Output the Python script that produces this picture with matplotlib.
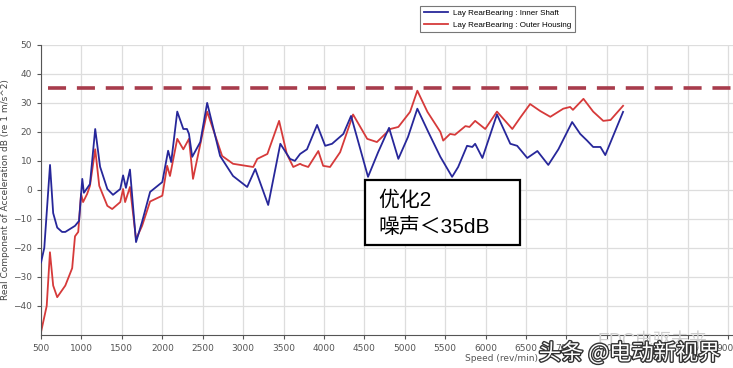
import matplotlib.pyplot as plt
import matplotlib.patheffects as pe
from matplotlib.patches import Rectangle

# Lay RearBearing : Inner Shaft
inner_rpm = [500, 540, 611, 650, 700, 760, 800, 920, 970, 1010, 1030, 1105, 1170, 1230,
             1320, 1390, 1480, 1515, 1550, 1600, 1675, 1750, 1849, 2000, 2072, 2110,
             2185, 2260, 2305, 2330, 2370, 2470, 2555, 2715, 2875, 3050, 3150, 3310,
             3460, 3580, 3640, 3705, 3790, 3915, 4015, 4100, 4240, 4335, 4425, 4545,
             4670, 4805, 4920, 5040, 5155, 5290, 5440, 5585, 5660, 5770, 5835, 5870,
             5960, 6140, 6305, 6390, 6515, 6640, 6775, 6900, 7070, 7170, 7255, 7330,
             7420, 7480, 7700]
inner_db = [-25, -20, 8.6, -8, -13, -14.5, -14.5, -12.4, -10.7, 3.8, -1, 2, 21, 8,
            0.3, -1.7, 0.3, 5, 0.7, 7, -18, -11, -0.7, 2.7, 13.5, 9.6,
            27, 21, 21, 19.3, 11.4, 16.5, 30, 11.7, 4.8, 1, 7.2, -5.2,
            15.9, 10.7, 10, 12.4, 14, 22.4, 15.2, 15.9, 19.3, 25.5, 16.5, 4.5,
            13, 21.4, 10.7, 18.3, 28, 20, 11.4, 4.5, 7.9, 15.2, 14.8, 15.9,
            11, 26, 15.9, 15.2, 11, 13.4, 8.6, 14, 23.4, 19.3, 17, 14.8,
            14.8, 12, 26.9]

# Lay RearBearing : Outer Housing
outer_rpm = [500, 570, 610, 650, 700, 800, 885, 920, 960, 995, 1020, 1070, 1105, 1170,
             1220, 1320, 1380, 1480, 1515, 1540, 1600, 1675, 1750, 1849, 2000, 2060,
             2095, 2185, 2260, 2330, 2380, 2555, 2740, 2875, 3125, 3175, 3300, 3445,
             3540, 3620, 3705, 3730, 3805, 3930, 3990, 4075, 4200, 4360, 4535, 4655,
             4820, 4920, 5065, 5155, 5280, 5440, 5475, 5560, 5620, 5750, 5800, 5870,
             5995, 6140, 6330, 6430, 6550, 6675, 6800, 6960, 7045, 7080, 7210, 7330,
             7455, 7545, 7700]
outer_db = [-49, -40, -21.5, -33, -37, -33, -27, -16, -14.5, -1.4, -4.2, -1.4, 1.4, 14,
            1.4, -5.5, -6.6, -4.2, 0.3, -4.2, 1, -17, -12.4, -4, -2, 8.3,
            4.8, 17.6, 14, 17.6, 3.8, 27, 11.7, 9, 7.9, 10.7, 12.4, 23.8,
            12.4, 7.9, 9, 8.6, 7.9, 13.4, 8.3, 7.9, 13, 26, 17.6, 16.5,
            21, 21.7, 26.9, 34.2, 26.9, 20, 17, 19.3, 19, 22, 21.7, 23.8,
            21, 27, 21, 25, 29.6, 27.2, 25.2, 28, 28.6, 27.6, 31.4, 27,
            23.8, 24.1, 29]

limit_db = 35
x_ticks = list(range(500, 9001, 500))
y_ticks = list(range(-40, 51, 10))

cjk = ['Liberation Sans', 'Noto Sans CJK SC']

fig = plt.figure(figsize=(7.33, 3.68), dpi=100)
ax = fig.add_axes([0.056, 0.09, 0.944, 0.788])

ax.plot(inner_rpm, inner_db, color='#27279a', lw=1.3, label='Lay RearBearing : Inner Shaft', zorder=3)
ax.plot(outer_rpm, outer_db, color='#d63a3a', lw=1.3, label='Lay RearBearing : Outer Housing', zorder=2)
ax.axhline(limit_db, xmin=0.01, color='#a83c4c', lw=2.6, dashes=(5, 3), zorder=4)

ax.set_xlim(500, 9060)
ax.set_ylim(-50, 50)
ax.set_xticks(x_ticks)
ax.set_yticks(y_ticks)
ax.tick_params(labelsize=6.5, labelcolor='#555555', color='#555555', length=3)
ax.grid(True, color='#dddddd', lw=0.9)
ax.set_axisbelow(True)
for s in ['top', 'right']:
    ax.spines[s].set_visible(False)
for s in ['left', 'bottom']:
    ax.spines[s].set_color('#555555')

ax.set_xlabel('Speed (rev/min)', fontsize=6.5, color='#555555')
ax.xaxis.set_label_coords(0.666, -0.065)
ax.set_ylabel('Real Component of Acceleration dB (re 1 m/s^2)', fontsize=6.5, color='#444444', labelpad=2)

leg = fig.legend(loc='upper left', bbox_to_anchor=(0.568, 0.995), frameon=True,
                 prop={'family': 'Liberation Sans', 'size': 5.8},
                 fancybox=False, edgecolor='#555555', handlelength=3.0, borderpad=0.45,
                 labelspacing=0.5, handletextpad=0.6)
leg.get_frame().set_linewidth(0.8)

# annotation box
fig.add_artist(Rectangle((0.498, 0.334), 0.211, 0.177, transform=fig.transFigure,
                         fc='white', ec='black', lw=1.6, zorder=5))
fig.text(0.516, 0.455, '优化2', fontsize=15, family=cjk, va='center', ha='left', zorder=6)
fig.text(0.516, 0.383, '噪声＜35dB', fontsize=15, family=cjk, va='center', ha='left', zorder=6)

# watermarks
fig.text(0.815, 0.06, 'EDC电驱未来', fontsize=13, color='#cfcfcf', family=cjk)
fig.text(0.735, 0.022, '头条 @电动新视界', fontsize=16, color='white',
         family=['Noto Sans CJK SC', 'DejaVu Sans'],
         path_effects=[pe.withStroke(linewidth=2, foreground='#333333')])

fig.savefig('out.png', dpi=100)
